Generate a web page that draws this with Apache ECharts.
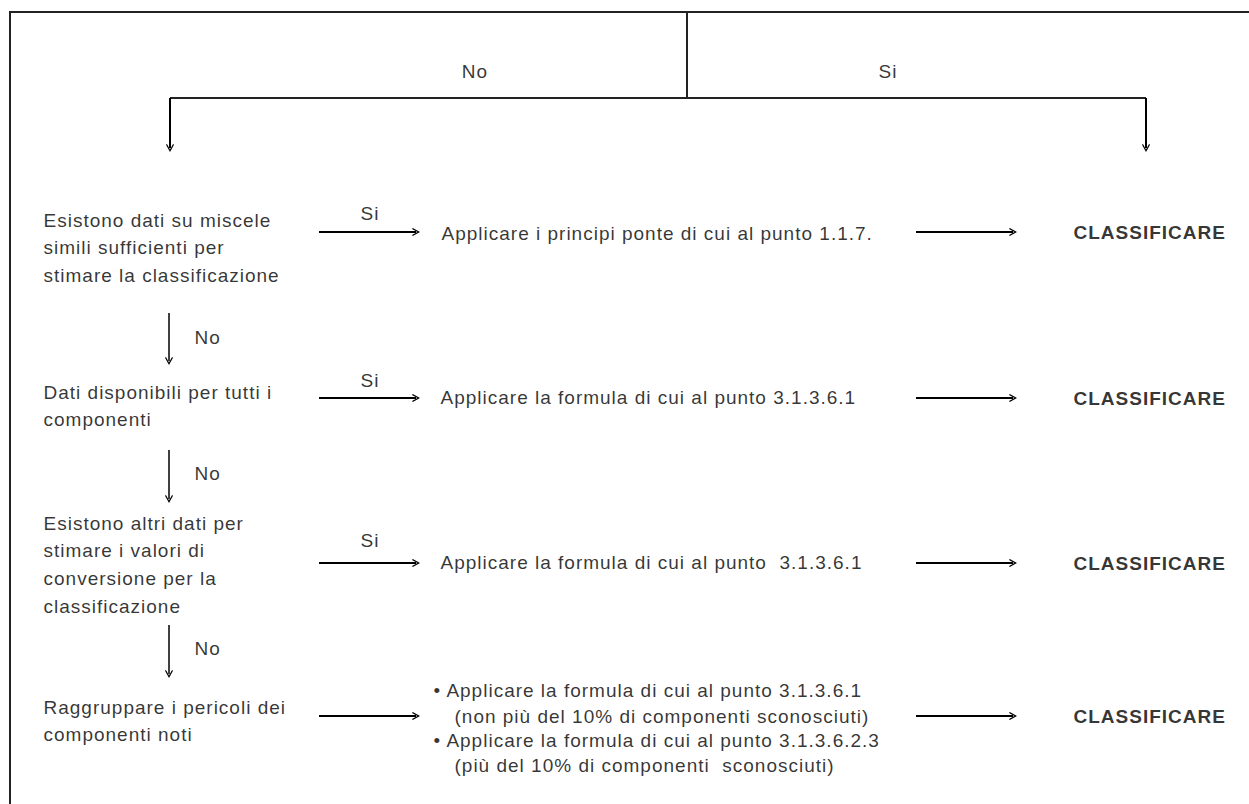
<!DOCTYPE html>
<html>
<head>
<meta charset="utf-8">
<script src="https://cdn.jsdelivr.net/npm/echarts@6/dist/echarts.min.js"></script>
<style>
  html, body { margin: 0; padding: 0; background: #fff; }
  #chart { width: 1249px; height: 804px; }
  /* il testo originale è leggermente spaziato */
  #chart text { letter-spacing: 1px; }
</style>
</head>
<body>
<div id="chart"></div>
<script>
// ---- contenuto del diagramma ----
const topBranches = ['No', 'Si'];
const questions = [
  ['Esistono dati su miscele', 'simili sufficienti per', 'stimare la classificazione'],
  ['Dati disponibili per tutti i', 'componenti'],
  ['Esistono altri dati per', 'stimare i valori di', 'conversione per la', 'classificazione'],
  ['Raggruppare i pericoli dei', 'componenti noti']
];
const yesLabels = ['Si', 'Si', 'Si', ''];
const noLabels = ['No', 'No', 'No'];
const actions = [
  ['Applicare i principi ponte di cui al punto 1.1.7.'],
  ['Applicare la formula di cui al punto 3.1.3.6.1'],
  ['Applicare la formula di cui al punto  3.1.3.6.1'],
  [
    '\u2022 Applicare la formula di cui al punto 3.1.3.6.1',
    '(non più del 10% di componenti sconosciuti)',
    '\u2022 Applicare la formula di cui al punto 3.1.3.6.2.3',
    '(più del 10% di componenti  sconosciuti)'
  ]
];
const outcome = 'CLASSIFICARE';

// ---- impaginazione (pixel, asse y verso il basso) ----
const W = 1249, H = 804;
const FRAME = { left: 10, top: 12 };
const SPLIT = { x: 687, y: 98, leftX: 170, rightX: 1146, tipY: 152, labelX: [475, 888], labelY: 71 };
const Q_X = 43;
const Q_FIRST_Y = [220, 392, 523, 707];
const Q_LINE_H = 27.8;
const NO_X = 169;
const NO_FROM = [313, 450, 625];
const NO_TIP = [365, 503, 678];
const NO_LABEL_X = 194;
const NO_LABEL_Y = [337, 473, 648];
const ROW_Y = [232, 398, 563, 716];
const YES_LABEL_X = 370;
const YES_LABEL_Y = [213, 380, 540];
const ARROW1 = [319, 420];
const ACTION_Y = [[233], [397], [562], [690, 716, 740, 765]];
const ACTION_XS = [[441], [440], [440], [433, 454, 433, 454]];
const ARROW2 = [916, 1017];
const OUTCOME_X = 1073;

const FONT = "'Liberation Sans', Arial, Helvetica, sans-serif";
const HEAD = 8; // lunghezza punta freccia
const ARROW_PATH = 'path://M5,0 L10,9 L8.8,10 L5,3.2 L1.2,10 L0,9 Z';

// ---- costruzione elementi ----
const texts = [];
const addText = (x, y, text, label) => texts.push({ value: [x, y], name: text, label: label || {} });

topBranches.forEach((t, i) => addText(SPLIT.labelX[i], SPLIT.labelY, t, { position: 'inside' }));
questions.forEach((lines, r) => lines.forEach((t, k) => addText(Q_X, Q_FIRST_Y[r] + k * Q_LINE_H, t)));
noLabels.forEach((t, i) => addText(NO_LABEL_X, NO_LABEL_Y[i], t));
yesLabels.forEach((t, i) => { if (t) addText(YES_LABEL_X, YES_LABEL_Y[i], t, { position: 'inside' }); });
actions.forEach((lines, r) => lines.forEach((t, k) => addText(ACTION_XS[r][k], ACTION_Y[r][k], t)));
ROW_Y.forEach(y => addText(OUTCOME_X, y, outcome, { fontWeight: 'bold' }));

// arrows: from -> tip, shortened so the head ends at the tip
function arrow(from, tip) {
  const dx = tip[0] - from[0], dy = tip[1] - from[1];
  const len = Math.sqrt(dx * dx + dy * dy);
  const k = (len - HEAD / 2) / len;
  return { coords: [from, [from[0] + dx * k, from[1] + dy * k]] };
}

const frameLines = [
  { coords: [[W, FRAME.top], [FRAME.left, FRAME.top], [FRAME.left, H]] },
  { coords: [[SPLIT.x, FRAME.top], [SPLIT.x, SPLIT.y]] },
  { coords: [[SPLIT.leftX, SPLIT.y], [SPLIT.rightX, SPLIT.y]] }
];

const mainArrows = [
  arrow([SPLIT.leftX, SPLIT.y], [SPLIT.leftX, SPLIT.tipY]),
  arrow([SPLIT.rightX, SPLIT.y], [SPLIT.rightX, SPLIT.tipY])
];
ROW_Y.forEach(y => {
  mainArrows.push(arrow([ARROW1[0], y], [ARROW1[1], y]));
  mainArrows.push(arrow([ARROW2[0], y], [ARROW2[1], y]));
});
const noArrows = NO_FROM.map((y, i) => arrow([NO_X, y], [NO_X, NO_TIP[i]]));

const chart = echarts.init(document.getElementById('chart'), null, { renderer: 'svg' });

chart.setOption({
  animation: false,
  backgroundColor: '#fff',
  grid: { left: 0, right: 0, top: 0, bottom: 0 },
  xAxis: { type: 'value', min: 0, max: W, show: false },
  yAxis: { type: 'value', min: 0, max: H, inverse: true, show: false },
  series: [
    {
      type: 'lines',
      coordinateSystem: 'cartesian2d',
      polyline: true,
      silent: true,
      symbol: ['none', 'none'],
      lineStyle: { color: '#222', width: 2, opacity: 1 },
      data: frameLines
    },
    {
      type: 'lines',
      coordinateSystem: 'cartesian2d',
      silent: true,
      symbol: ['none', ARROW_PATH],
      symbolSize: HEAD,
      lineStyle: { color: '#000', width: 2, opacity: 1 },
      data: mainArrows
    },
    {
      type: 'lines',
      coordinateSystem: 'cartesian2d',
      silent: true,
      symbol: ['none', ARROW_PATH],
      symbolSize: HEAD,
      lineStyle: { color: '#000', width: 1.5, opacity: 1 },
      data: noArrows
    },
    {
      type: 'scatter',
      silent: true,
      clip: false,
      symbolSize: 1,
      itemStyle: { color: 'rgba(0,0,0,0)' },
      label: {
        show: true,
        position: 'right',
        distance: 0,
        formatter: '{b}',
        color: '#000',
        fontSize: 19,
        fontFamily: FONT
      },
      labelLayout: { hideOverlap: false },
      data: texts
    }
  ]
});
</script>
</body>
</html>
